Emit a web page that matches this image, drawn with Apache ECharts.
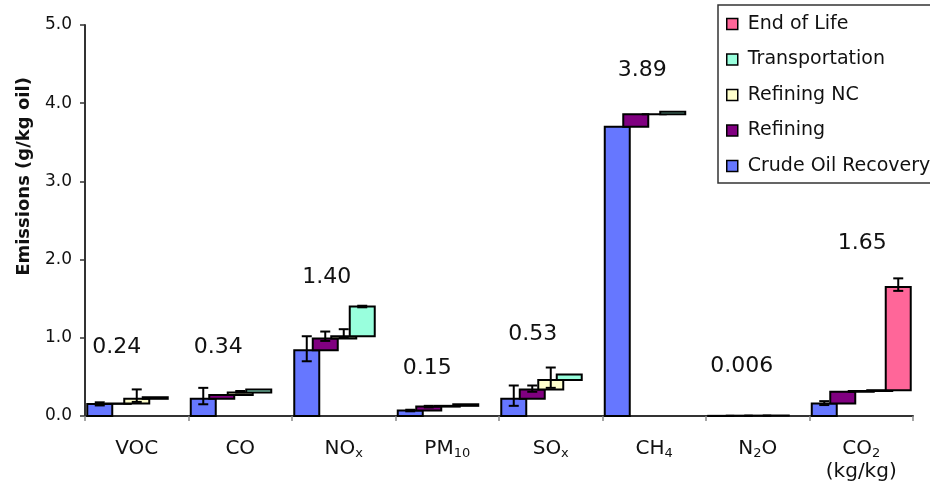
<!DOCTYPE html>
<html><head><meta charset="utf-8">
<script src="https://cdn.jsdelivr.net/npm/echarts@6/dist/echarts.min.js"></script>
<style>html,body{margin:0;padding:0;background:#fff}#c{width:930px;height:489px}</style>
</head><body><div id="c"></div>
<script>
// ---- data ----
const categories = ['VOC', 'CO', 'NOx', 'PM10', 'SOx', 'CH4', 'N2O', 'CO2'];
const tickLabels = ['VOC', 'CO', 'NO{s|x}', 'PM{s|10}', 'SO{s|x}', 'CH{s|4}', 'N{s|2}O', 'CO{s|2}\n(kg/kg)'];
const stageNames = ['Crude Oil Recovery', 'Refining', 'Refining NC', 'Transportation', 'End of Life'];
const crudeOilRecovery = [0.155, 0.22, 0.84, 0.07, 0.22, 3.70, 0.002, 0.16];
const refining         = [0.005, 0.05, 0.15, 0.05, 0.12, 0.16, 0.002, 0.15];
const refiningNC       = [0.06, 0.03, 0.03, 0.01, 0.12, 0.0, 0.001, 0.01];
const transportation   = [0.02, 0.04, 0.38, 0.02, 0.07, 0.03, 0.001, 0.01];
const endOfLife        = [null, null, null, null, null, null, null, 1.32];
// error bars (plus / minus) at the top of each stage
const crudeErrUp = [0.02, 0.14, 0.18, 0.01, 0.17, 0, 0, 0.03];
const crudeErrDn = [0.02, 0.07, 0.14, 0.01, 0.09, 0, 0, 0.02];
const refErrUp   = [0, 0, 0.09, 0.01, 0.05, 0, 0, 0];
const refErrDn   = [0, 0, 0.03, 0.01, 0.03, 0, 0, 0];
const ncErrUp    = [0.12, 0.02, 0.09, 0, 0.16, 0, 0, 0];
const ncErrDn    = [0.04, 0, 0.02, 0, 0.10, 0, 0, 0];
const trErrUp    = [0, 0, 0.01, 0, 0, 0, 0, 0];
const trErrDn    = [0, 0, 0.01, 0, 0, 0, 0, 0];
const eolErrUp   = [0, 0, 0, 0, 0, 0, 0, 0.11];
const eolErrDn   = [0, 0, 0, 0, 0, 0, 0, 0.05];
const totalsText = ['0.24', '0.34', '1.40', '0.15', '0.53', '3.89', '0.006', '1.65'];
const yTicks = [0, 1, 2, 3, 4, 5];

// ---- layout / style ----
const totalLabelY  = [0.88, 0.88, 1.78, 0.61, 1.04, 4.42, 0.63, 2.21];
const totalLabelDx = [-20, -22, -17, -20, -18, -12, -16, 1];
const colors = ['#6677ff', '#800080', '#ffffcc', '#99ffdd', '#ff6699'];
const FONT = 'DejaVu Sans';

const stages = [crudeOilRecovery, refining, refiningNC, transportation, endOfLife];
const errUps = [crudeErrUp, refErrUp, ncErrUp, trErrUp, eolErrUp];
const errDns = [crudeErrDn, refErrDn, ncErrDn, trErrDn, eolErrDn];

const cum = categories.map(() => 0);
const stageData = stages.map((vals, k) => {
  const out = [];
  vals.forEach((v, i) => {
    if (v === null) return;
    const lo = cum[i], hi = cum[i] + v;
    cum[i] = hi;
    out.push([i, lo, hi, errUps[k][i], errDns[k][i]]);
  });
  return out;
});

function makeRender(k) {
  return function (params, api) {
    const i = api.value(0), lo = api.value(1), hi = api.value(2);
    const eu = api.value(3), ed = api.value(4);
    const band = api.size([1, 0])[0];
    const barW = band * 0.2415, step = band * 0.1787;
    const cx = api.coord([i, 0])[0];
    const x0 = cx - (4 * step + barW) / 2 + k * step;
    const yLo = api.coord([i, lo])[1], yHi = api.coord([i, hi])[1];
    const children = [{
      type: 'rect',
      shape: { x: x0, y: yHi, width: barW, height: yLo - yHi },
      style: { fill: colors[k], stroke: '#000', lineWidth: 2 }
    }];
    if (eu > 0 || ed > 0) {
      const xc = x0 + barW / 2;
      const yT = api.coord([i, hi + eu])[1], yB = api.coord([i, hi - ed])[1];
      const cw = 5;
      const st = { stroke: '#000', lineWidth: 2 };
      children.push({ type: 'line', shape: { x1: xc, y1: yT, x2: xc, y2: yB }, style: st });
      children.push({ type: 'line', shape: { x1: xc - cw, y1: yT, x2: xc + cw, y2: yT }, style: st });
      children.push({ type: 'line', shape: { x1: xc - cw, y1: yB, x2: xc + cw, y2: yB }, style: st });
    }
    return { type: 'group', children };
  };
}

const series = stageNames.map((name, k) => ({
  name, type: 'custom', renderItem: makeRender(k),
  itemStyle: { color: colors[k] },
  encode: { x: 0, y: [1, 2] },
  data: stageData[k], z: 2 + k
}));
series.push({
  name: 'totals', type: 'custom', z: 10,
  encode: { x: 0, y: 1 },
  data: categories.map((c, i) => [i, totalLabelY[i]]),
  renderItem: function (params, api) {
    const i = api.value(0);
    const p = api.coord([i, api.value(1)]);
    return {
      type: 'text', x: p[0] + totalLabelDx[i], y: p[1],
      style: { text: totalsText[i], fontSize: 22, fontFamily: FONT, fill: '#111', align: 'center', verticalAlign: 'middle' }
    };
  }
});

const chart = echarts.init(document.getElementById('c'), null, { renderer: 'canvas' });
chart.setOption({
  animation: false,
  backgroundColor: '#fff',
  grid: { left: 85, right: 17, top: 25, bottom: 73 },
  legend: {
    orient: 'vertical', left: 718, top: 5,
    data: stageNames.slice().reverse(),
    icon: 'rect', itemWidth: 11, itemHeight: 11, itemGap: 15.5,
    padding: [9, 12, 7, 8],
    itemStyle: { borderColor: '#000', borderWidth: 1.5 },
    textStyle: { fontFamily: FONT, fontSize: 19, color: '#111', lineHeight: 20, padding: [0, 0, 0, 5] },
    backgroundColor: '#fff', borderColor: '#333', borderWidth: 1.5,
    selectedMode: false
  },
  xAxis: {
    type: 'category', data: categories,
    axisLine: { lineStyle: { color: '#333', width: 2 } },
    axisTick: { show: true, length: 5, lineStyle: { color: '#888', width: 1.5 } },
    axisLabel: {
      interval: 0, margin: 21, fontFamily: FONT, fontSize: 20, color: '#111', lineHeight: 23,
      formatter: (v, i) => tickLabels[i],
      rich: { s: { fontFamily: FONT, fontSize: 13, lineHeight: 14, verticalAlign: 'bottom', color: '#111' } }
    },
    splitLine: { show: false }
  },
  yAxis: {
    type: 'value', min: yTicks[0], max: yTicks[yTicks.length - 1], interval: 1,
    name: 'Emissions (g/kg oil)', nameLocation: 'middle', nameGap: 52,
    nameTextStyle: { fontFamily: FONT, fontSize: 18, fontWeight: 'bold', color: '#111', padding: [0, 0, 0, 88] },
    axisLine: { show: true, lineStyle: { color: '#333', width: 2 } },
    axisTick: { show: true, length: 5, lineStyle: { color: '#333', width: 1.5 } },
    axisLabel: { margin: 13, fontFamily: FONT, fontSize: 17, color: '#111', formatter: v => v.toFixed(1) },
    splitLine: { show: false }
  },
  series
});
</script>
</body></html>
